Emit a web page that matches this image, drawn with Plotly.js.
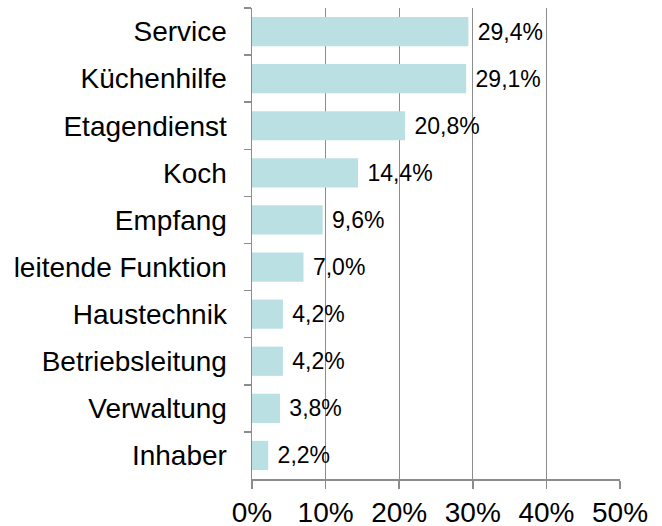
<!DOCTYPE html>
<html>
<head>
<meta charset="utf-8">
<script src="https://cdn.plot.ly/plotly-3.0.1.min.js"></script>
<style>html,body{margin:0;padding:0;background:#fff;}#chart{width:662px;height:526px;}</style>
</head>
<body>
<div id="chart"></div>
<script>
const categories = ["Service", "Küchenhilfe", "Etagendienst", "Koch", "Empfang", "leitende Funktion", "Haustechnik", "Betriebsleitung", "Verwaltung", "Inhaber"];
const values = [29.4, 29.1, 20.8, 14.4, 9.6, 7.0, 4.2, 4.2, 3.8, 2.2];
const xTicks = [0, 10, 20, 30, 40, 50];
const xTickLabels = ["0%", "10%", "20%", "30%", "40%", "50%"];

const font = '"Liberation Sans", Arial, Helvetica, sans-serif';

const trace = {
  type: 'bar',
  orientation: 'h',
  x: values,
  y: categories,
  marker: {color: '#bae0e3'},
  width: 0.62,
  texttemplate: '\u00a0%{x:.1f}%',
  textposition: 'outside',
  constraintext: 'none',
  cliponaxis: false,
  textfont: {family: font, size: 23, color: '#000'},
  hoverinfo: 'skip'
};

const layout = {
  width: 662,
  height: 526,
  margin: {l: 252, r: 42, t: 8, b: 47},
  paper_bgcolor: '#fff',
  plot_bgcolor: '#fff',
  separators: ',.',
  showlegend: false,
  font: {family: font, color: '#000'},
  xaxis: {
    range: [0, 50],
    tickvals: xTicks,
    ticktext: xTickLabels,
    showgrid: true,
    gridcolor: '#8c8c8c',
    gridwidth: 1,
    showline: true,
    linecolor: '#8c8c8c',
    linewidth: 1.5,
    ticks: 'outside',
    ticklen: 8,
    tickcolor: '#8c8c8c',
    tickwidth: 1.5,
    tickfont: {family: font, size: 28, color: '#000'},
    ticklabelstandoff: 0,
    zeroline: false,
    fixedrange: true
  },
  yaxis: {
    autorange: 'reversed',
    showgrid: false,
    showline: true,
    linecolor: '#8c8c8c',
    linewidth: 1.5,
    ticks: 'outside',
    tickson: 'boundaries',
    ticklen: 7,
    tickcolor: '#8c8c8c',
    tickwidth: 1.5,
    tickfont: {family: font, size: 28, color: '#000'},
    ticklabelstandoff: 18,
    zeroline: false,
    fixedrange: true
  }
};

Plotly.newPlot('chart', [trace], layout, {displayModeBar: false, staticPlot: true});
</script>
</body>
</html>
